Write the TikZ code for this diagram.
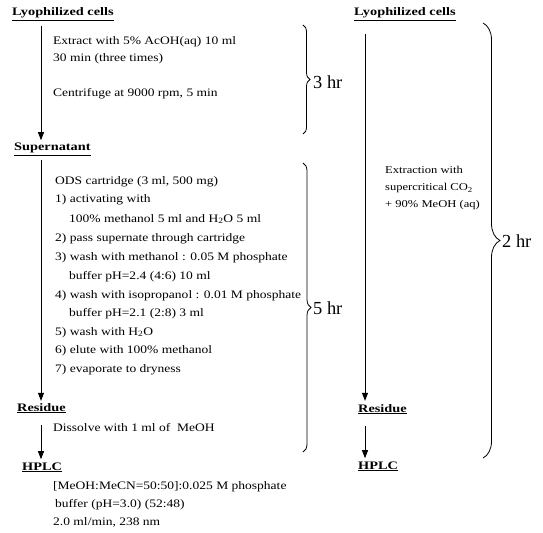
\documentclass[tikz,border=0pt]{standalone}
\usepackage{fontspec}
\setmainfont{Liberation Serif}
\newfontfamily\bodyfont[FakeStretch=1.18]{Liberation Serif}
\newfontfamily\sidefont[FakeStretch=1.2]{Liberation Serif}
\newfontfamily\headfont[FakeStretch=1.25]{Liberation Serif}
\usetikzlibrary{arrows.meta,decorations.pathreplacing}
\begin{document}
\begin{tikzpicture}[x=1bp,y=-1bp,
  txt/.style={anchor=base west,inner sep=0pt,font=\bodyfont\fontsize{11.5}{13}\selectfont},
  smalltxt/.style={anchor=base west,inner sep=0pt,font=\sidefont\fontsize{10.5}{12}\selectfont},
  hd/.style={anchor=base west,inner sep=0pt,font=\headfont\fontsize{11.5}{13}\selectfont\bfseries},
  flow/.style={-{Triangle[length=8bp,width=6bp]},line width=0.9bp},
  brc/.style={decorate,decoration={brace,amplitude=#1},line width=0.8bp},
  hr/.style={anchor=west,inner sep=0pt,font=\fontsize{18.5}{21}\selectfont}]
\useasboundingbox (0,0) rectangle (543,533);
% ---------- left column
\coordinate (xL) at (41,0);
\node[hd] (lyoL) at (12,16) {\underline{Lyophilized cells}};
\node[hd] (supL) at (14,151) {\underline{Supernatant}};
\node[hd] (resL) at (17,411) {\underline{Residue}};
\node[hd] (hplcL) at (22,470) {\underline{HPLC}};
\draw[flow,shorten <=5bp,shorten >=3bp] (lyoL.south -| xL) -- (supL.north -| xL);
\draw[flow,shorten <=4bp,shorten >=2bp] (supL.south -| xL) -- (resL.north -| xL);
\draw[flow,shorten <=12bp,shorten >=3bp] (resL.south -| xL) -- (hplcL.north -| xL);

\node[txt] (e1) at (53,45) {Extract with 5\% AcOH(aq) 10 ml};
\node[txt] (e2) at (53,62) {30 min (three times)};
\node[txt] (e3) at (53,97) {Centrifuge at 9000 rpm, 5 min};

\node[txt] (o1) at (55,185) {ODS cartridge (3 ml, 500 mg)};
\node[txt] (o2) at (55,203) {1) activating with};
\node[txt] (o3) at (69,222) {100\% methanol 5 ml and H\textsubscript{2}O 5 ml};
\node[txt] (o4) at (55,241) {2) pass supernate through cartridge};
\node[txt] (o5) at (55,260) {3) wash with methanol : 0.05 M phosphate};
\node[txt] (o6) at (69,279) {buffer pH=2.4 (4:6) 10 ml};
\node[txt] (o7) at (55,298) {4) wash with isopropanol : 0.01 M phosphate};
\node[txt] (o8) at (69,316) {buffer pH=2.1 (2:8) 3 ml};
\node[txt] (o9) at (55,335) {5) wash with H\textsubscript{2}O};
\node[txt] (o10) at (55,353) {6) elute with 100\% methanol};
\node[txt] (o11) at (55,372) {7) evaporate to dryness};

\node[txt] (d1) at (53,431) {Dissolve with 1 ml of\ \ MeOH};
\node[txt] (h1) at (53,489) {[MeOH:MeCN=50:50]:0.025 M phosphate};
\node[txt] (h2) at (55,507) {buffer (pH=3.0) (52:48)};
\node[txt] (h3) at (53,525) {2.0 ml/min, 238 nm};

% braces
\coordinate (b1t) at (303,25);
\coordinate (b1b) at (303,134);
\draw[brc=7bp] (b1t) -- (b1b);
\node[hr] (t3) at (313,82) {3 hr};
\coordinate (b2t) at (303,163);
\coordinate (b2b) at (303,452);
\draw[brc=8bp] (b2t) -- (b2b);
\node[hr] (t5) at (313,308) {5 hr};

% ---------- right column
\coordinate (xR) at (365,0);
\node[hd] (lyoR) at (354,16) {\underline{Lyophilized cells}};
\node[hd] (resR) at (358,412) {\underline{Residue}};
\node[hd] (hplcR) at (358,469) {\underline{HPLC}};
\draw[flow,shorten <=13bp,shorten >=3bp] (lyoR.south -| xR) -- (resR.north -| xR);
\draw[flow,shorten <=12bp,shorten >=3bp] (resR.south -| xR) -- (hplcR.north -| xR);
\node[smalltxt] (s1) at (385,174) {Extraction with};
\node[smalltxt] (s2) at (385,191) {supercritical CO\textsubscript{2}};
\node[smalltxt] (s3) at (385,208) {+ 90\% MeOH (aq)};
\coordinate (b3t) at (483,23);
\coordinate (b3b) at (483,458);
\draw[brc=17bp] (b3t) -- (b3b);
\node[hr] (t2) at (502,241) {2 hr};
\end{tikzpicture}
\end{document}
